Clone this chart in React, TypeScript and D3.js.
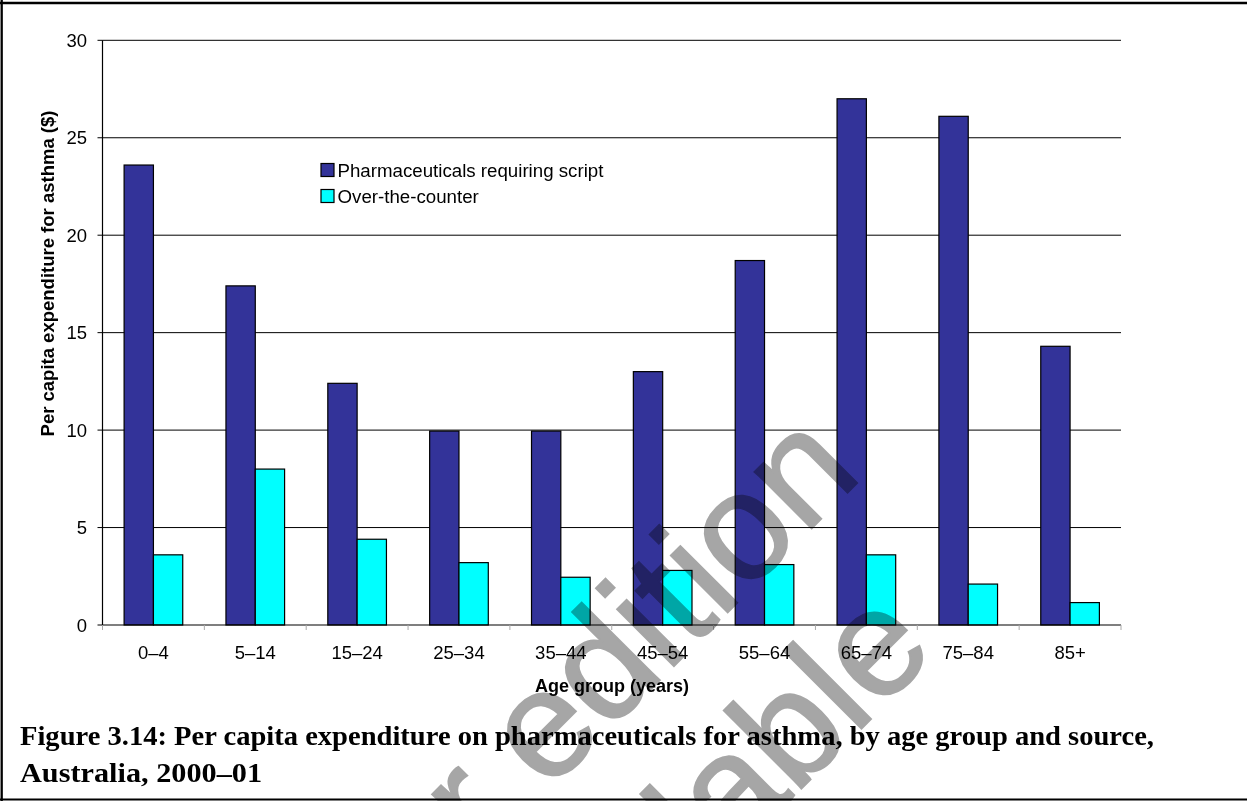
import React from "react";
import * as d3 from "d3";

// Figure 3.14 data
const ageGroups = ["0–4", "5–14", "15–24", "25–34", "35–44", "45–54", "55–64", "65–74", "75–84", "85+"];
const scriptValues = [23.6, 17.4, 12.4, 9.95, 9.95, 13.0, 18.7, 27.0, 26.1, 14.3];
const otcValues = [3.6, 8.0, 4.4, 3.2, 2.45, 2.8, 3.1, 3.6, 2.1, 1.15];
const seriesNames = ["Pharmaceuticals requiring script", "Over-the-counter"];
const seriesColors = ["#333399", "#00ffff"];
const yTicks = [0, 5, 10, 15, 20, 25, 30];

const W = 1247;
const H = 801;
const sans = "'Liberation Sans', Arial, sans-serif";
const serif = "'Liberation Serif', 'Times New Roman', serif";

const App = () => {
  const x = d3.scaleBand<string>().domain(ageGroups).range([102.5, 1121]).padding(0);
  const inner = d3
    .scaleBand<string>()
    .domain(seriesNames)
    .range([0, x.bandwidth()])
    .paddingInner(0)
    .paddingOuter(0.737);
  const y = d3.scaleLinear().domain([0, 30]).range([625, 40.3]);

  const rows = ageGroups.map((g, i) => ({ group: g, values: [scriptValues[i], otcValues[i]] }));
  const [x0, x1] = x.range();

  return (
    <svg width={W} height={H} style={{ position: "absolute", left: 0, top: 0, background: "#fff" }}>
      <rect x={0} y={0} width={W} height={H} fill="#fff" />

      {/* gridlines */}
      {yTicks.slice(1).map((t) => (
        <line key={t} x1={x0} x2={x1} y1={y(t)} y2={y(t)} stroke="#000" strokeWidth={1} />
      ))}

      {/* bars */}
      {rows.map((r) => (
        <g key={r.group} transform={`translate(${x(r.group)},0)`}>
          {r.values.map((v, j) => (
            <rect
              key={j}
              x={inner(seriesNames[j])}
              y={y(v)}
              width={inner.bandwidth()}
              height={y(0) - y(v)}
              fill={seriesColors[j]}
              stroke="#000"
              strokeWidth={1.2}
            />
          ))}
        </g>
      ))}

      {/* y axis */}
      <line x1={x0} x2={x0} y1={y(30)} y2={y(0)} stroke="#000" strokeWidth={1.2} />
      {yTicks.map((t) => (
        <g key={t}>
          <line x1={x0 - 5} x2={x0} y1={y(t)} y2={y(t)} stroke="#000" strokeWidth={1} />
          <text x={87} y={y(t)} dy="0.36em" textAnchor="end" fontFamily={sans} fontSize={18.5}>
            {t}
          </text>
        </g>
      ))}
      <text
        transform="translate(53.5,273.5) rotate(-90)"
        textAnchor="middle"
        fontFamily={sans}
        fontWeight="bold"
        fontSize={18.5}
      >
        Per capita expenditure for asthma ($)
      </text>

      {/* x axis */}
      <line x1={x0} x2={x1} y1={y(0)} y2={y(0)} stroke="#000" strokeWidth={1.2} />
      {ageGroups.map((g) => (
        <line key={g} x1={x(g)} x2={x(g)} y1={y(0)} y2={y(0) + 5} stroke="#aaa" strokeWidth={1} />
      ))}
      <line x1={x1} x2={x1} y1={y(0)} y2={y(0) + 5} stroke="#aaa" strokeWidth={1} />
      {ageGroups.map((g) => (
        <text
          key={g}
          x={(x(g) as number) + x.bandwidth() / 2}
          y={659}
          textAnchor="middle"
          fontFamily={sans}
          fontSize={18.5}
        >
          {g}
        </text>
      ))}
      <text x={612} y={692} textAnchor="middle" fontFamily={sans} fontWeight="bold" fontSize={18}>
        Age group (years)
      </text>

      {/* legend */}
      {seriesNames.map((s, i) => (
        <g key={s} transform={`translate(321,${163.5 + i * 26})`}>
          <rect width={13} height={13} fill={seriesColors[i]} stroke="#000" strokeWidth={1.2} />
          <text x={16.5} y={13.2} fontFamily={sans} fontSize={18.7}>
            {s}
          </text>
        </g>
      ))}

      {/* caption */}
      <text x={20} y={745} fontFamily={serif} fontWeight="bold" fontSize={27} textLength={1134} lengthAdjust="spacingAndGlyphs">
        Figure 3.14: Per capita expenditure on pharmaceuticals for asthma, by age group and source,
      </text>
      <text x={20} y={782} fontFamily={serif} fontWeight="bold" fontSize={27} textLength={242} lengthAdjust="spacingAndGlyphs">
        Australia, 2000–01
      </text>

      {/* frame */}
      <line x1={0} x2={W} y1={3} y2={3} stroke="#000" strokeWidth={2.3} />
      <line x1={1.7} x2={1.7} y1={0} y2={H} stroke="#000" strokeWidth={2.3} />
      <line x1={0} x2={W} y1={799.5} y2={799.5} stroke="#000" strokeWidth={2} />

      {/* watermark */}
      <g
        style={{ mixBlendMode: "multiply" }}
        fill="#a6a6a6"
        stroke="#a6a6a6"
        strokeWidth={2}
        fontFamily={sans}
        fontSize={152}
        textAnchor="end"
      >
        <text transform="translate(864,476) rotate(-45)">Later edition</text>
        <text transform="translate(938,652) rotate(-45)">available</text>
      </g>
    </svg>
  );
};

export default App;
